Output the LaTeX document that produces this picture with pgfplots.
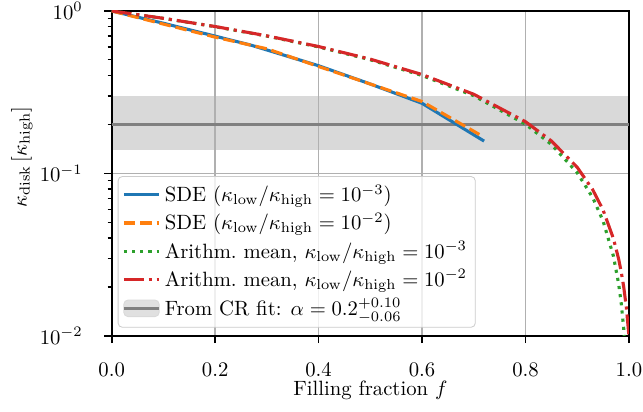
\documentclass[border=0pt]{standalone}
\usepackage{pgfplots}
\pgfplotsset{compat=1.18}
\definecolor{tabblue}{HTML}{1F77B4}
\definecolor{taborange}{HTML}{FF7F0E}
\definecolor{tabgreen}{HTML}{2CA02C}
\definecolor{tabred}{HTML}{D62728}
\definecolor{gridgray}{HTML}{B0B0B0}
\definecolor{bandgray}{HTML}{D9D9D9}
\definecolor{linegray}{HTML}{808080}
\definecolor{legendedge}{HTML}{CCCCCC}
\begin{document}
\begin{tikzpicture}
\begin{axis}[
  set layers,
  scale only axis,
  width=250pt, height=157pt,
  xmin=0, xmax=1,
  ymode=log, ymin=0.01, ymax=1,
  xtick={0,0.2,0.4,0.6,0.8,1.0},
  xticklabels={0.0,0.2,0.4,0.6,0.8,1.0},
  ytick={0.01,0.1,1},
  yticklabels={$10^{-2}$,$10^{-1}$,$10^{0}$},
  xticklabel style={yshift=-6pt},
  yticklabel style={xshift=-7pt},
  tick align=outside,
  major tick length=3.5pt,
  minor tick length=2pt,
  tick style={black, line width=0.8pt},
  minor tick style={black, line width=0.6pt},
  xtick pos=bottom, ytick pos=left,
  axis line style={line width=0.8pt},
  grid=major,
  major grid style={gridgray, line width=0.8pt},
  minor grid style={draw=none},
  xlabel={Filling fraction $f$},
  ylabel={$\kappa_{\mathrm{disk}}\left[\kappa_{\mathrm{high}}\right]$},
  every axis x label/.style={at={(rel axis cs:0.5,0)}, yshift=-26.5pt, anchor=center},
  every axis y label/.style={at={(rel axis cs:0,0.55)}, xshift=-43.5pt, rotate=90, anchor=center},
  legend cell align=left,
  legend style={at={(0.0116,0.025)}, anchor=south west,
    fill=white, fill opacity=0.8, text opacity=1, draw=legendedge,
    rounded corners=2pt, row sep=0pt, inner sep=2pt},
]
\addplot[on layer=axis background, fill=bandgray, draw=none, forget plot]
  coordinates {(0,0.14) (1,0.14) (1,0.30) (0,0.30)} -- cycle;
\addplot[linegray, line width=1.3pt, forget plot] coordinates {(0,0.2) (1,0.2)};

\addplot[tabblue, line width=1.5pt] coordinates {
 (0,1.0) (0.1,0.84) (0.2,0.70) (0.27,0.615) (0.4,0.46) (0.5,0.355) (0.6,0.27) (0.72,0.158)};
\addlegendentry{SDE ($\kappa_{\mathrm{low}}/\kappa_{\mathrm{high}}=10^{-3}$)}
\addplot[taborange, line width=1.5pt, dash pattern=on 5.55pt off 2.4pt] coordinates {
 (0,1.0) (0.1,0.83) (0.2,0.69) (0.3,0.585) (0.4,0.455) (0.5,0.355) (0.6,0.277) (0.713,0.172)};
\addlegendentry{SDE ($\kappa_{\mathrm{low}}/\kappa_{\mathrm{high}}=10^{-2}$)}
\addplot[tabgreen, line width=1.5pt, dash pattern=on 1.5pt off 2.475pt] coordinates {
 (0,1.0) (0.1,0.9001) (0.2,0.8002) (0.3,0.7003) (0.4,0.6004) (0.5,0.5005) (0.6,0.4006)
 (0.7,0.3007) (0.8,0.2008) (0.85,0.15085) (0.9,0.1009) (0.93,0.07093) (0.95,0.05095)
 (0.97,0.03097) (0.98,0.02098) (0.985,0.015985) (0.99,0.01099) (0.995,0.006005) (1.0,0.001)};
\addlegendentry{Arithm.\ mean, $\kappa_{\mathrm{low}}/\kappa_{\mathrm{high}}=10^{-3}$}
\addplot[tabred, line width=1.5pt, dash pattern=on 9.6pt off 2.4pt on 1.5pt off 2.4pt] coordinates {
 (0,1.0) (0.1,0.901) (0.2,0.802) (0.3,0.703) (0.4,0.604) (0.5,0.505) (0.6,0.406)
 (0.7,0.307) (0.8,0.208) (0.85,0.1585) (0.9,0.109) (0.93,0.0793) (0.95,0.0595)
 (0.97,0.0397) (0.98,0.0298) (0.985,0.02485) (0.99,0.0199) (0.995,0.01495) (1.0,0.01)};
\addlegendentry{Arithm.\ mean, $\kappa_{\mathrm{low}}/\kappa_{\mathrm{high}}=10^{-2}$}
\addlegendimage{legend image code/.code={
  \fill[bandgray] (0cm,-4pt) rectangle (0.6cm,4pt);
  \draw[linegray, line width=1.3pt] (0cm,0cm) -- (0.6cm,0cm);}}
\addlegendentry{From CR fit: $\alpha=0.2^{+0.10}_{-0.06}$}
\coordinate (ll) at (rel axis cs:0,0);
\coordinate (ur) at (rel axis cs:1,1);
\end{axis}
\pgfresetboundingbox
\path ([shift={(-54pt,-36.7pt)}]ll) rectangle ([shift={(6.8pt,5.3pt)}]ur);
\end{tikzpicture}
\end{document}
